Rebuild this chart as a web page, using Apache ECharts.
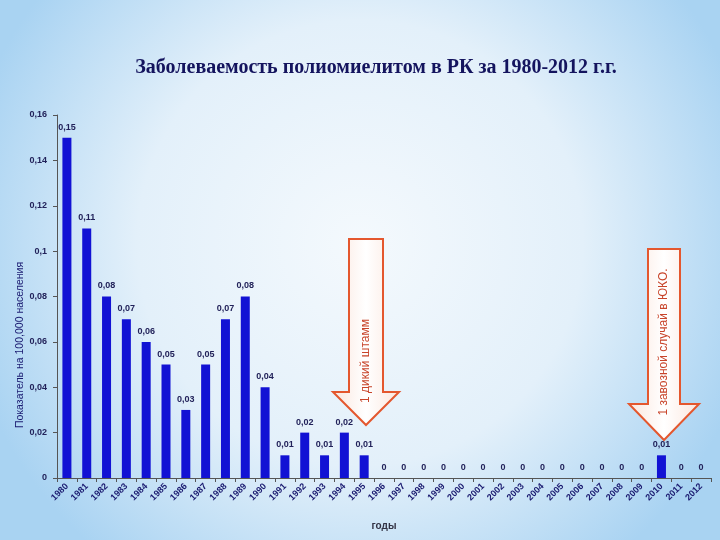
<!DOCTYPE html>
<html>
<head>
<meta charset="utf-8">
<script src="https://cdn.jsdelivr.net/npm/echarts@6/dist/echarts.min.js"></script>
<style>
html,body{margin:0;padding:0;}
#c{width:720px;height:540px;}
</style>
</head>
<body>
<div id="c"></div>
<script>
var years = ['1980','1981','1982','1983','1984','1985','1986','1987','1988','1989','1990','1991','1992','1993','1994','1995','1996','1997','1998','1999','2000','2001','2002','2003','2004','2005','2006','2007','2008','2009','2010','2011','2012'];
var rates = [0.15,0.11,0.08,0.07,0.06,0.05,0.03,0.05,0.07,0.08,0.04,0.01,0.02,0.01,0.02,0.01,0,0,0,0,0,0,0,0,0,0,0,0,0,0,0.01,0,0];
var titleText = 'Заболеваемость полиомиелитом в РК за 1980-2012 г.г.';
var yName = 'Показатель на 100,000 населения';
var xName = 'годы';
var note1 = '1 дикий штамм';
var note2 = '1 завозной случай в ЮКО.';

function fmt(v){ return String(+v.toFixed(2)).replace('.', ','); }

var chart = echarts.init(document.getElementById('c'));

function arrowPoly(cx, top, shaftHalf, headY, headHalf, tipY){
  return [[cx-shaftHalf, top],[cx+shaftHalf, top],[cx+shaftHalf, headY],[cx+headHalf, headY],[cx, tipY],[cx-headHalf, headY],[cx-shaftHalf, headY]];
}
var arrowFill = new echarts.graphic.LinearGradient(0,0,1,0,[{offset:0,color:'#fbe6dd'},{offset:0.5,color:'#ffffff'},{offset:1,color:'#fbe6dd'}]);

chart.setOption({
  backgroundColor: new echarts.graphic.RadialGradient(0.5,0.45,0.75,[
    {offset:0,color:'#f4f9fd'},{offset:0.55,color:'#e3f0fa'},{offset:1,color:'#a9d3f2'}]),
  title: {
    text: titleText, left: 371, top: 53, textAlign: 'center',
    textStyle: {fontFamily: 'Liberation Serif', fontWeight: 'bold', fontSize: 20, color: '#14145e'}
  },
  grid: {left: 57, right: 9, top: 115, bottom: 62, containLabel: false},
  xAxis: {
    type: 'category', data: years,
    name: xName, nameLocation: 'middle', nameGap: 43,
    nameTextStyle: {fontFamily: 'Liberation Sans', fontSize: 10, fontWeight: 'bold', color: '#333344'},
    axisLine: {lineStyle: {color: '#555555', width: 1}},
    axisTick: {show: true, length: 4, lineStyle: {color: '#555555'}},
    axisLabel: {rotate: 45, interval: 0, margin: 7, fontFamily: 'Liberation Sans', fontSize: 9, fontWeight: 'bold', color: '#1a1a70'}
  },
  yAxis: {
    type: 'value', min: 0, max: 0.16, interval: 0.02,
    axisLine: {show: true, lineStyle: {color: '#555555', width: 1}},
    axisTick: {show: true, length: 4, lineStyle: {color: '#555555'}},
    splitLine: {show: false},
    axisLabel: {formatter: fmt, margin: 10, fontFamily: 'Liberation Sans', fontSize: 9, fontWeight: 'bold', color: '#22225a'}
  },
  series: [{
    type: 'bar', data: rates, barWidth: 9,
    itemStyle: {color: '#1212d4'},
    label: {show: true, position: 'top', distance: 6, formatter: function(p){return fmt(p.value);},
      fontFamily: 'Liberation Sans', fontSize: 9, fontWeight: 'bold', color: '#22225a'}
  }],
  graphic: [
    {type: 'text', x: 20, y: 345, rotation: Math.PI/2,
      style: {text: yName, fontFamily: 'Liberation Sans', fontSize: 10.5, fill: '#1a1a70', align: 'center', verticalAlign: 'middle'}},
    {type: 'polygon', shape: {points: arrowPoly(366, 239, 17, 392, 33, 425)},
      style: {fill: arrowFill, stroke: '#e4572e', lineWidth: 2}},
    {type: 'text', x: 366, y: 361, rotation: Math.PI/2,
      style: {text: note1, fontFamily: 'Liberation Sans', fontSize: 12, fill: '#c8442a', align: 'center', verticalAlign: 'middle'}},
    {type: 'polygon', shape: {points: arrowPoly(664, 249, 16, 404, 35, 440)},
      style: {fill: arrowFill, stroke: '#e4572e', lineWidth: 2}},
    {type: 'text', x: 664, y: 342, rotation: Math.PI/2,
      style: {text: note2, fontFamily: 'Liberation Sans', fontSize: 12, fill: '#c8442a', align: 'center', verticalAlign: 'middle'}}
  ]
});
</script>
</body>
</html>
